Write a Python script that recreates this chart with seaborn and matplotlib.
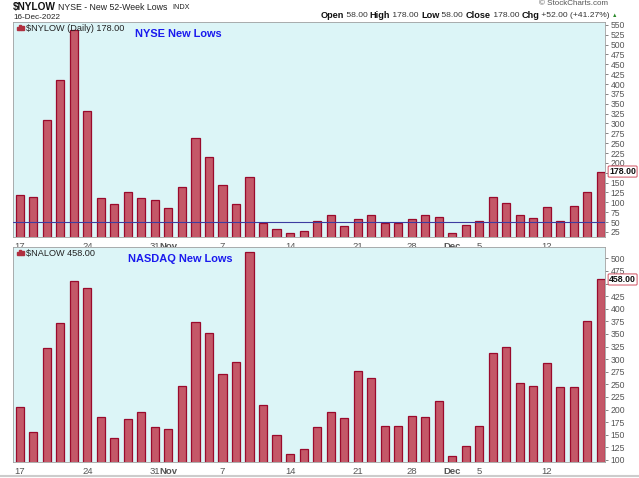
import numpy as np
import pandas as pd
import matplotlib
matplotlib.use("Agg")
import matplotlib.pyplot as plt
import seaborn as sns

# trading days 17-Oct-2022 .. 16-Dec-2022 (44 sessions)
days = ["Oct17", "Oct18", "Oct19", "Oct20", "Oct21",
        "Oct24", "Oct25", "Oct26", "Oct27", "Oct28",
        "Oct31", "Nov1", "Nov2", "Nov3", "Nov4",
        "Nov7", "Nov8", "Nov9", "Nov10", "Nov11",
        "Nov14", "Nov15", "Nov16", "Nov17", "Nov18",
        "Nov21", "Nov22", "Nov23", "Nov25",
        "Nov28", "Nov29", "Nov30", "Dec1", "Dec2",
        "Dec5", "Dec6", "Dec7", "Dec8", "Dec9",
        "Dec12", "Dec13", "Dec14", "Dec15", "Dec16"]

nylow = [119, 113, 308, 409, 536, 331, 111, 96, 127, 111,
         107, 86, 139, 262, 214, 144, 96, 165, 47, 33,
         23, 27, 53, 67, 40, 57, 67, 47, 47,
         57, 67, 63, 22, 42, 53, 113, 99, 69, 60,
         87, 53, 90, 126, 178]

nalow = [206, 155, 322, 371, 454, 442, 186, 144, 182, 195,
         165, 161, 247, 373, 352, 271, 295, 512, 210, 150,
         112, 122, 165, 196, 184, 276, 262, 168, 168,
         188, 186, 217, 107, 127, 167, 312, 325, 253, 247,
         293, 245, 245, 375, 458]

tick_pos = [0, 5, 10, 11, 15, 20, 25, 29, 32, 34, 39]
tick_labels = ["17", "24", "31", "Nov", "7", "14", "21", "28", "Dec", "5", "12"]
bold_ticks = ["Nov", "Dec"]

df = pd.DataFrame({"day": days, "nylow": nylow, "nalow": nalow})

sns.set_theme(style="white")
plt.rcParams["font.family"] = ["Liberation Sans", "DejaVu Sans"]

BG = "#dcf5f7"
FACE = "#c45868"
EDGE = "#9a0a2c"
SPINE = "#a0a0a0"

fig = plt.figure(figsize=(6.39, 4.78), dpi=100)
ax1 = fig.add_axes([0.0203, 0.5042, 0.9265, 0.4504])
ax2 = fig.add_axes([0.0203, 0.0335, 0.9265, 0.4504])


def draw_panel(ax, col, ylim, yticks, last, label, title, title_x):
    ax.set_facecolor(BG)
    sns.barplot(data=df, x="day", y=col, ax=ax, color=FACE, width=0.6,
                edgecolor=EDGE, linewidth=0.9, saturation=1)
    ax.set_xlim(-0.5, 43.3)
    ax.set_ylim(*ylim)
    ax.set_xlabel("")
    ax.set_ylabel("")
    ax.yaxis.tick_right()
    ax.set_yticks(yticks)
    # the last-value tag hides the tick label right under it
    ylabels = ["" if abs(v - last) < 13 else str(v) for v in yticks]
    ax.set_yticklabels(ylabels, fontsize=6.2, color="#333333")
    ax.tick_params(axis="y", length=2.5, width=0.5, pad=1.5, colors="#555555")
    ax.set_xticks(tick_pos)
    ax.set_xticklabels(tick_labels, fontsize=6.8, color="#222222")
    for t in ax.get_xticklabels():
        if t.get_text() in bold_ticks:
            t.set_fontweight("bold")
    ax.tick_params(axis="x", length=2, width=0.5, pad=1.5, colors="#555555")
    for s in ax.spines.values():
        s.set_color(SPINE)
        s.set_linewidth(0.6)
    # last value tag
    ax.annotate(f"{last:.2f}", xy=(1.0, last), xycoords=("axes fraction", "data"),
                xytext=(3, 0), textcoords="offset points", va="center", ha="left",
                fontsize=6.3, fontweight="bold", color="#111111",
                bbox=dict(boxstyle="round,pad=0.12", fc="white", ec="#d05060", lw=0.7),
                annotation_clip=False)
    # small bar-chart icon
    for k, h in enumerate([0.6, 1.0, 0.75]):
        ax.add_patch(plt.Rectangle((0.006 + k * 0.0042, 0.962), 0.0034, 0.022 * h,
                                   transform=ax.transAxes, color="#b03040",
                                   clip_on=False))
    ax.text(0.022, 0.987, label, transform=ax.transAxes, fontsize=6.6,
            color="#222222", va="top", ha="left")
    ax.text(title_x, 0.968, title, transform=ax.transAxes, fontsize=7.9,
            fontweight="bold", color="#1a1aee", va="top", ha="left")


draw_panel(ax1, "nylow", (12, 558), list(range(25, 551, 25)), nylow[-1],
           "$NYLOW (Daily) 178.00", "NYSE New Lows", 0.206)
ax1.axhline(50, color="#3c3ca0", linewidth=0.8, zorder=3)

draw_panel(ax2, "nalow", (96, 523), list(range(100, 501, 25)), nalow[-1],
           "$NALOW 458.00", "NASDAQ New Lows", 0.195)

# header
fig.text(0.0203, 0.985, "$NYLOW", fontsize=7.3, fontweight="bold", color="#111111",
         va="center", ha="left")
fig.text(0.091, 0.985, "NYSE - New 52-Week Lows", fontsize=6.3, color="#222222",
         va="center", ha="left")
fig.text(0.27, 0.985, "INDX", fontsize=5.2, color="#222222", va="center", ha="left")
fig.text(0.0203, 0.964, "16-Dec-2022", fontsize=5.9, color="#222222",
         va="center", ha="left")
fig.text(0.951, 0.993, "\u00a9 StockCharts.com", fontsize=5.8, color="#555555",
         va="center", ha="right")

parts = [("Open", True), (" 58.00 ", False), ("High", True), (" 178.00 ", False),
         ("Low", True), (" 58.00 ", False), ("Close", True), (" 178.00 ", False),
         ("Chg", True), (" +52.00 (+41.27%) ", False), ("\u25b2", False)]
x = 0.501
renderer = fig.canvas.get_renderer()
for txt, bold in parts:
    t = fig.text(x, 0.967, txt, fontsize=(6.6 if bold else 6.1) if txt != "\u25b2" else 4,
                 fontweight="bold" if bold else "normal",
                 color="#111111" if bold else ("#2a8a2a" if txt == "\u25b2" else "#333333"),
                 va="center", ha="left")
    bb = t.get_window_extent(renderer=renderer)
    x += bb.width / fig.bbox.width

fig.add_artist(plt.Line2D([0.0, 1.0], [0.004, 0.004], color="#cccccc", lw=1.5))

fig.savefig("out.png", dpi=100, facecolor="white")
